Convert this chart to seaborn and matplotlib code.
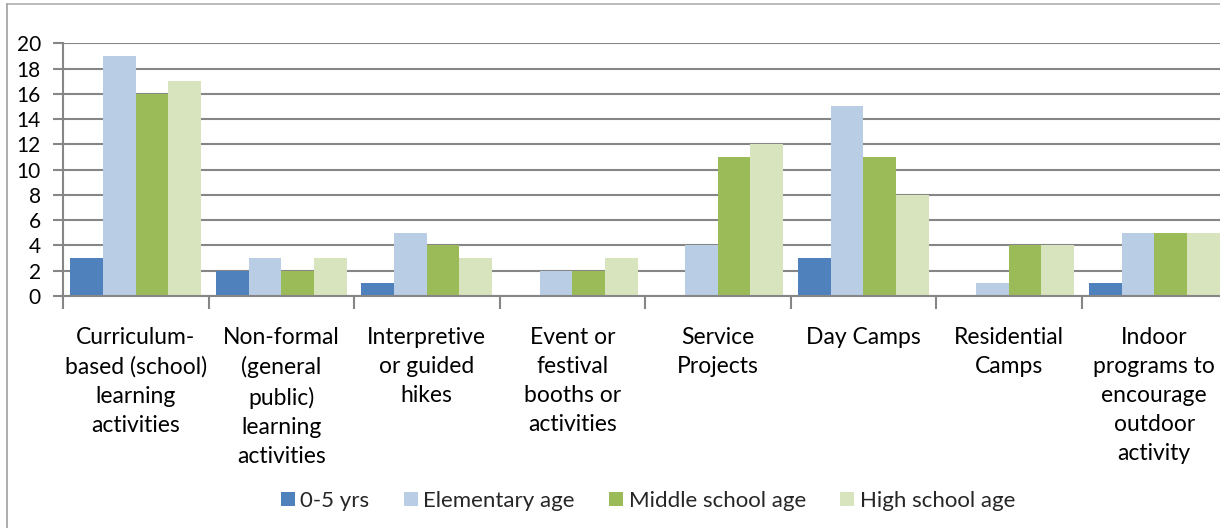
import matplotlib
matplotlib.use("Agg")
import matplotlib.pyplot as plt
from matplotlib.lines import Line2D
from matplotlib.patches import Patch
import seaborn as sns
import pandas as pd
import numpy as np

categories = [
    "Curriculum-\nbased (school)\nlearning\nactivities",
    "Non-formal\n(general\npublic)\nlearning\nactivities",
    "Interpretive\nor guided\nhikes",
    "Event or\nfestival\nbooths or\nactivities",
    "Service\nProjects",
    "Day Camps",
    "Residential\nCamps",
    "Indoor\nprograms to\nencourage\noutdoor\nactivity",
]
series_names = ["0-5 yrs", "Elementary age", "Middle school age", "High school age"]
age_0_5 = [3, 2, 1, 0, 0, 3, 0, 1]
elementary = [19, 3, 5, 2, 4, 15, 1, 5]
middle = [16, 2, 4, 2, 11, 11, 4, 5]
high = [17, 3, 3, 3, 12, 8, 4, 5]
yticks = [0, 2, 4, 6, 8, 10, 12, 14, 16, 18, 20]
colors = ["#4F81BD", "#B9CDE5", "#9BBB59", "#D7E4BD"]

rows = []
for name, vals in zip(series_names, [age_0_5, elementary, middle, high]):
    for cat, v in zip(categories, vals):
        rows.append({"category": cat, "series": name, "value": v})
df = pd.DataFrame(rows)

sns.set_theme(style="white")
plt.rcParams["font.family"] = ["Lato", "DejaVu Sans"]

W, H = 1220, 528
fig = plt.figure(figsize=(W / 100, H / 100), dpi=100)
ax = fig.add_axes([63 / W, (H - 296) / H, (1227 - 63) / W, (296 - 43.3) / H])

grid_c = "#868686"
sns.barplot(data=df, x="category", y="value", hue="series", order=categories,
            hue_order=series_names, palette=colors, width=0.9, linewidth=0,
            saturation=1, ax=ax, legend=False)

ax.set_ylim(0, 20)
ax.set_xlim(-0.5, len(categories) - 0.5)
ax.set_yticks(yticks)
ax.set_yticklabels([str(t) for t in yticks], fontsize=15)
ax.yaxis.grid(True, color=grid_c, linewidth=1.5)
ax.set_axisbelow(True)

# category boundaries as major ticks, labels at centres as minor ticks
ax.set_xticks(np.arange(-0.5, len(categories) + 0.5, 1.0))
ax.set_xticklabels([])
ax.set_xticks(np.arange(len(categories)), minor=True)
ax.set_xticklabels(categories, minor=True, fontsize=16.5, linespacing=1.48,
                   va="top", ha="center")
ax.tick_params(axis="x", which="major", length=9, width=1.5, color=grid_c,
               bottom=True, direction="out")
ax.tick_params(axis="x", which="minor", length=0, pad=22, colors="black",
               bottom=True)
ax.tick_params(axis="y", which="major", length=7, width=1.5, color=grid_c,
               left=True, direction="out", pad=9, labelcolor="black")
ax.set_xlabel("")
ax.set_ylabel("")
for s in ["top", "right"]:
    ax.spines[s].set_visible(False)
for s in ["left", "bottom"]:
    ax.spines[s].set_color(grid_c)
    ax.spines[s].set_linewidth(1.5)

handles = [Patch(facecolor=c, edgecolor="none") for c in colors]
fig.legend(handles, series_names, loc="center", bbox_to_anchor=(648 / W, 1 - 501 / H),
           ncol=4, frameon=False, fontsize=16, handlelength=0.62, handleheight=0.62,
           handletextpad=0.25, columnspacing=1.55)

# chart-area border
fig.add_artist(Line2D([7 / W, 1.0], [1 - 4 / H, 1 - 4 / H], color="#B0B0B0", linewidth=1.2))
fig.add_artist(Line2D([7 / W, 7 / W], [0, 1 - 4 / H], color="#A0A0A0", linewidth=1.2))

fig.savefig("out.png", dpi=100)
